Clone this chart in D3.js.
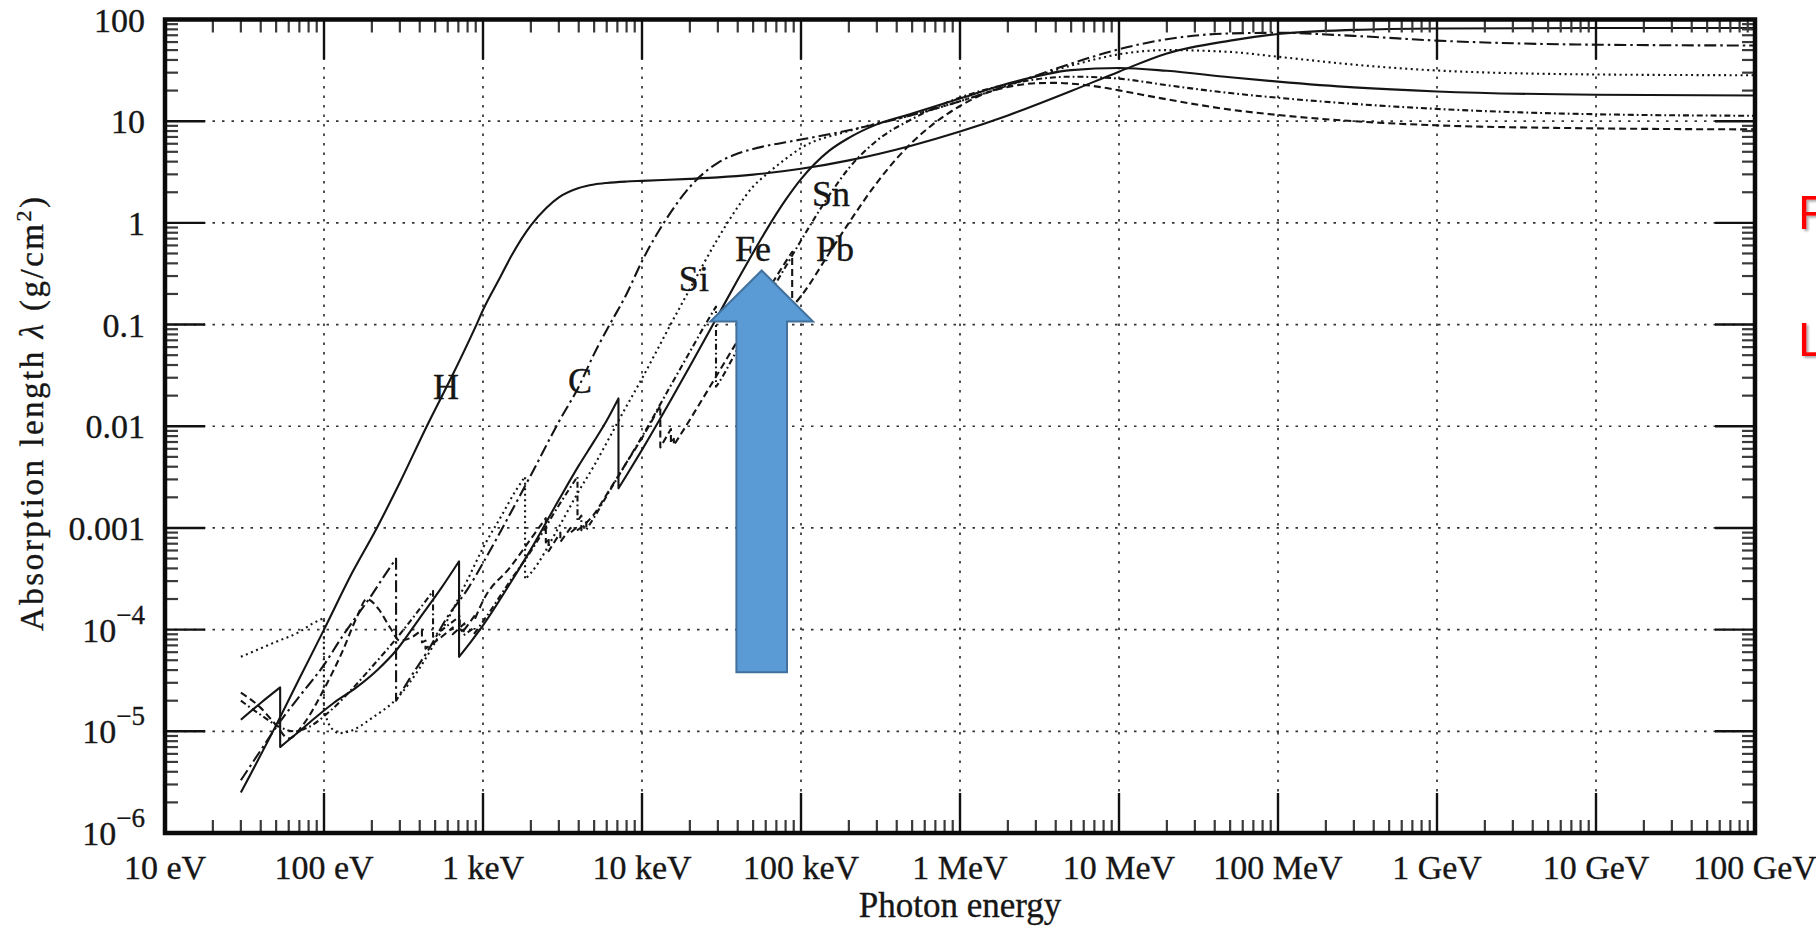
<!DOCTYPE html>
<html>
<head>
<meta charset="utf-8">
<script src="https://cdn.jsdelivr.net/npm/d3@7.9.0/dist/d3.min.js"></script>
<style>
  html, body { margin: 0; padding: 0; background: #fff; overflow: hidden; }
  svg { display: block; }
  .serif { font-family: "Liberation Serif", "DejaVu Serif", serif; fill: #161616; stroke: #161616; stroke-width: 0.35; }
</style>
</head>
<body>
<svg id="chart" width="1816" height="926"></svg>
<script>
// Axis ticks (photon energy in eV, absorption length in g/cm^2)
const xTicks = [1e1, 1e2, 1e3, 1e4, 1e5, 1e6, 1e7, 1e8, 1e9, 1e10, 1e11];
const xTickLabels = ['10 eV', '100 eV', '1 keV', '10 keV', '100 keV', '1 MeV',
  '10 MeV', '100 MeV', '1 GeV', '10 GeV', '100 GeV'];
const yTicks = [100, 10, 1, 0.1, 0.01, 0.001, 1e-4, 1e-5, 1e-6];
const yTickLabels = ['100', '10', '1', '0.1', '0.01', '0.001', '10^−4', '10^−5', '10^−6'];

// Curves: [energy eV, length g/cm^2]; a repeated energy is an absorption edge
const hydrogen = [[30, 2.5e-6], [50, 1.15e-5], [70, 3.3e-5], [100, 1.0e-4], [150, 3.6e-4], [215, 1.0e-3],
  [300, 2.8e-3], [443, 1.0e-2], [650, 3.3e-2], [910, 0.1], [1000, 0.139], [1280, 0.29], [1500, 0.466],
  [2000, 0.944], [2500, 1.4], [3000, 1.78], [4000, 2.2], [5000, 2.385], [6000, 2.47], [8000, 2.55],
  [1e4, 2.59], [2e4, 2.71], [3e4, 2.8], [5e4, 2.98], [1e5, 3.4], [2e5, 4.12], [5e5, 5.78], [1e6, 7.92],
  [2e6, 11.4], [5e6, 19.8], [1e7, 30.7], [2e7, 46.4], [5e7, 62], [1e8, 72], [3e8, 79], [1e9, 81.5],
  [1e10, 82.5], [1e11, 82.5]];

const carbon = [[30, 3.3e-6], [40, 6.5e-6], [52, 1.2e-5], [70, 2.2e-5], [100, 4.5e-5], [130, 8.5e-5],
  [160, 1.35e-4], [200, 2.2e-4], [240, 3.4e-4], [284, 5.0e-4], [284, 2.0e-5], [350, 3.4e-5], [450, 6.2e-5],
  [600, 1.35e-4], [800, 2.5e-4], [1000, 4.52e-4], [1500, 1.43e-3], [2000, 3.3e-3], [3000, 0.0111],
  [4000, 0.0245], [5000, 0.0515], [6000, 0.0885], [8000, 0.2], [1e4, 0.42], [1.5e4, 1.24], [2e4, 2.26],
  [3e4, 3.9], [4e4, 4.8], [5e4, 5.34], [8e4, 6.2], [1e5, 6.6], [2e5, 8.14], [5e5, 11.5], [1e6, 15.7],
  [2e6, 22.5], [5e6, 36.9], [1e7, 51], [2e7, 64], [5e7, 73], [1e8, 74], [3e8, 69], [1e9, 62],
  [1e10, 56.5], [1e11, 55.5]];

const silicon = [[30, 5.4e-5], [50, 7.6e-5], [70, 9.5e-5], [85, 1.15e-4], [99.8, 1.3e-4], [99.8, 1.6e-5],
  [110, 1.1e-5], [125, 9.6e-6], [150, 1.02e-5], [200, 1.35e-5], [287, 2.1e-5], [400, 4.2e-5], [500, 7.5e-5],
  [650, 1.6e-4], [800, 3.1e-4], [1000, 6.37e-4], [1300, 1.3e-3], [1600, 2.3e-3], [1839, 3.2e-3],
  [1839, 3.13e-4], [2000, 3.6e-4], [3000, 1.02e-3], [4000, 2.3e-3], [5000, 4.1e-3], [6000, 6.9e-3],
  [8000, 0.0158], [1e4, 0.0295], [1.5e4, 0.0976], [2e4, 0.224], [3e4, 0.7], [4e4, 1.43], [5e4, 2.28],
  [6e4, 2.96], [8e4, 4.25], [1e5, 5.45], [2e5, 8.0], [5e5, 11.5], [1e6, 15.7], [2e6, 22.4], [5e6, 35.2],
  [1e7, 45.5], [2e7, 50], [5e7, 48], [1e8, 43], [3e8, 36], [1e9, 31.5], [1e10, 28.8], [1e11, 28.3]];

const iron = [[30, 1.3e-5], [40, 1.9e-5], [53, 2.7e-5], [53, 7.0e-6], [70, 1.0e-5], [90, 1.4e-5],
  [115, 1.9e-5], [160, 2.7e-5], [220, 4.1e-5], [286, 6.3e-5], [400, 1.3e-4], [550, 2.6e-4], [707, 4.7e-4],
  [707, 5.4e-5], [850, 7.8e-5], [1000, 1.1e-4], [1500, 2.94e-4], [2000, 6.15e-4], [3000, 1.89e-3],
  [4000, 4.1e-3], [5000, 7.14e-3], [6000, 0.0114], [7112, 0.0188], [7112, 2.45e-3], [8000, 3.3e-3],
  [1e4, 5.86e-3], [1.5e4, 0.0175], [2e4, 0.039], [3e4, 0.122], [4e4, 0.276], [5e4, 0.51], [6e4, 0.83],
  [8e4, 1.68], [1e5, 2.69], [1.5e5, 5.1], [2e5, 6.85], [3e5, 9.3], [5e5, 11.9], [1e6, 16.7], [2e6, 23.5],
  [5e6, 31.8], [1e7, 33.4], [2e7, 31.3], [5e7, 27], [1e8, 24.5], [3e8, 21.5], [1e9, 19.6], [1e10, 18.2],
  [1e11, 17.9]];

const tin = [[30, 2.0e-5], [40, 1.45e-5], [50, 1.15e-5], [65, 1.0e-5], [80, 1.1e-5], [110, 1.6e-5],
  [150, 2.6e-5], [200, 4.3e-5], [300, 9.0e-5], [400, 1.6e-4], [485, 2.4e-4], [485, 8.5e-5], [600, 1.1e-4],
  [714, 1.35e-4], [714, 9.5e-5], [756, 1.0e-4], [756, 8.8e-5], [884, 1.05e-4], [884, 9.2e-5],
  [1000, 1.2e-4], [1500, 3.1e-4], [2000, 5.9e-4], [3000, 1.67e-3], [3929, 3.2e-3], [3929, 1.17e-3],
  [4156, 1.32e-3], [4156, 9.5e-4], [4465, 1.14e-3], [4465, 9.6e-4], [5000, 1.27e-3], [6000, 2.07e-3],
  [8000, 4.4e-3], [1e4, 7.9e-3], [1.5e4, 0.0244], [2e4, 0.054], [2.5e4, 0.1], [2.92e4, 0.15],
  [2.92e4, 0.0245], [3e4, 0.026], [4e4, 0.0575], [5e4, 0.104], [6e4, 0.172], [8e4, 0.37], [1e5, 0.67],
  [1.5e5, 1.85], [2e5, 3.45], [3e5, 6.45], [5e5, 10.5], [1e6, 17.1], [2e6, 23], [5e6, 27.4], [1e7, 26.2],
  [2e7, 22.6], [5e7, 18.9], [1e8, 17], [3e8, 14.8], [1e9, 13.2], [1e10, 11.7], [1e11, 11.3]];

const lead = [[30, 2.4e-5], [40, 1.7e-5], [50, 1.15e-5], [60, 8.5e-6], [75, 1.2e-5], [100, 2.6e-5],
  [130, 6.0e-5], [160, 1.3e-4], [186, 2.0e-4], [220, 1.6e-4], [260, 1.05e-4], [300, 7.8e-5], [360, 8.5e-5],
  [413, 1.0e-4], [413, 7.5e-5], [435, 7.8e-5], [435, 6.5e-5], [550, 8.5e-5], [645, 1.05e-4],
  [645, 9.0e-5], [764, 1.15e-4], [764, 1.0e-4], [894, 1.4e-4], [894, 1.3e-4], [1000, 1.92e-4],
  [1500, 4.2e-4], [2000, 7.8e-4], [2484, 1.25e-3], [2484, 7.2e-4], [2586, 8.0e-4], [2586, 5.9e-4],
  [3066, 9.0e-4], [3066, 7.3e-4], [3554, 1.0e-3], [3554, 9.0e-4], [3851, 1.0e-3], [3851, 9.3e-4],
  [5000, 1.37e-3], [6000, 2.14e-3], [8000, 4.4e-3], [1e4, 7.66e-3], [13035, 0.016], [13035, 6.2e-3],
  [15200, 9.4e-3], [15200, 6.8e-3], [15860, 7.5e-3], [15860, 6.5e-3], [2e4, 0.0116], [3e4, 0.033],
  [4e4, 0.0696], [5e4, 0.124], [6e4, 0.2], [8e4, 0.413], [8.8e4, 0.52], [8.8e4, 0.15], [1e5, 0.19],
  [1.5e5, 0.5], [2e5, 1.0], [3e5, 2.48], [4e5, 4.3], [5e5, 6.2], [6e5, 8.0], [8e5, 11.3], [1e6, 14.1],
  [1.5e6, 19.2], [2e6, 21.7], [3e6, 23.6], [4e6, 23.8], [5e6, 23.4], [8e6, 21.4], [1e7, 20.1],
  [2e7, 16.4], [5e7, 13], [1e8, 11.5], [3e8, 10], [1e9, 9.1], [1e10, 8.5], [1e11, 8.3]];

// Element labels: name, energy (eV) at label centre, length at baseline
const labelNames = ['H', 'C', 'Si', 'Fe', 'Sn', 'Pb'];
const labelEnergy = [585, 4070, 21200, 49900, 154500, 163800];
const labelLength = [0.0184, 0.0211, 0.215, 0.425, 1.47, 0.425];

// Blue arrow: energy, tip, head base and tail lengths
const arrowEnergy = 5.66e4;
const arrowTip = 0.34, arrowHead = 0.107, arrowTail = 3.8e-5;

const svg = d3.select('#chart');
const plotLeft = 165, plotRight = 1755, plotTop = 19.5, plotBottom = 833;

const x = d3.scaleLog().domain([1e1, 1e11]).range([plotLeft, plotRight]);
const y = d3.scaleLog().domain([1e-6, 100]).range([plotBottom, plotTop]);

// Dotted grid at each decade
const grid = svg.append('g').attr('stroke', '#333').attr('stroke-width', 1.7)
  .attr('stroke-dasharray', '2.5,7');
xTicks.slice(1, -1).forEach(v => {
  grid.append('line').attr('x1', x(v)).attr('x2', x(v)).attr('y1', plotTop).attr('y2', plotBottom);
});
yTicks.slice(1, -1).forEach(v => {
  grid.append('line').attr('y1', y(v)).attr('y2', y(v)).attr('x1', plotLeft).attr('x2', plotRight);
});

// Curves, split at edges so each piece is smooth and the edge is a straight drop
const line = d3.line().x(d => x(d[0])).y(d => y(d[1])).curve(d3.curveMonotoneX);
function pathFor(points) {
  const segs = [];
  let cur = [];
  points.forEach((p, i) => {
    if (i > 0 && p[0] === points[i - 1][0]) { segs.push(cur); cur = []; }
    cur.push(p);
  });
  segs.push(cur);
  return segs.map((s, i) => {
    const d = line(s);
    return i === 0 ? d : 'L' + d.slice(1);
  }).join('');
}

const curves = [
  { data: hydrogen, dash: null },
  { data: carbon, dash: '12,4,2.5,4' },
  { data: silicon, dash: '2,3.5' },
  { data: iron, dash: null },
  { data: tin, dash: '6,3,1.8,3' },
  { data: lead, dash: '7,4' }
];
curves.forEach(c => {
  svg.append('path')
    .attr('d', pathFor(c.data))
    .attr('fill', 'none')
    .attr('stroke', '#151515')
    .attr('stroke-width', 2.1)
    .attr('stroke-linejoin', 'round')
    .attr('stroke-dasharray', c.dash);
});

// Ticks on all four sides, pointing inward
const xMinor = [];
for (let e = 1; e < 11; e++) for (let k = 2; k <= 9; k++) xMinor.push(k * Math.pow(10, e));
const yMinor = [];
for (let e = -6; e < 2; e++) for (let k = 2; k <= 9; k++) yMinor.push(k * Math.pow(10, e));

const ticks = svg.append('g');
function tickSetX(values, len, width, color) {
  values.forEach(v => {
    const px = x(v);
    ticks.append('line').attr('x1', px).attr('x2', px).attr('y1', plotBottom).attr('y2', plotBottom - len)
      .attr('stroke-width', width).attr('stroke', color);
    ticks.append('line').attr('x1', px).attr('x2', px).attr('y1', plotTop).attr('y2', plotTop + len)
      .attr('stroke-width', width).attr('stroke', color);
  });
}
function tickSetY(values, len, width, color) {
  values.forEach(v => {
    const py = y(v);
    ticks.append('line').attr('y1', py).attr('y2', py).attr('x1', plotLeft).attr('x2', plotLeft + len)
      .attr('stroke-width', width).attr('stroke', color);
    ticks.append('line').attr('y1', py).attr('y2', py).attr('x1', plotRight).attr('x2', plotRight - len)
      .attr('stroke-width', width).attr('stroke', color);
  });
}
tickSetX(xMinor, 13, 2.2, '#3a3a3a');
tickSetY(yMinor, 13, 2.2, '#3a3a3a');
tickSetX(xTicks, 40, 2.4, '#111');
tickSetY(yTicks, 40, 2.4, '#111');

// Frame
svg.append('rect')
  .attr('x', plotLeft).attr('y', plotTop)
  .attr('width', plotRight - plotLeft).attr('height', plotBottom - plotTop)
  .attr('fill', 'none').attr('stroke', '#0a0a0a').attr('stroke-width', 4.5);

// X tick labels
svg.append('g').selectAll('text').data(xTicks).join('text')
  .attr('class', 'serif')
  .attr('x', d => x(d)).attr('y', 879)
  .attr('text-anchor', 'middle')
  .attr('font-size', 34)
  .text((d, i) => xTickLabels[i]);

// Y tick labels, with superscript exponents
yTicks.forEach((v, i) => {
  const t = svg.append('text').attr('class', 'serif')
    .attr('x', 145).attr('y', y(v) + 12)
    .attr('text-anchor', 'end').attr('font-size', 34);
  const parts = yTickLabels[i].split('^');
  t.append('tspan').text(parts[0]);
  if (parts[1]) t.append('tspan').attr('dy', -18).attr('font-size', 27).text(parts[1]);
});

// Axis titles
svg.append('text').attr('class', 'serif')
  .attr('x', (plotLeft + plotRight) / 2).attr('y', 917)
  .attr('text-anchor', 'middle').attr('font-size', 35)
  .text('Photon energy');

const yTitle = svg.append('text').attr('class', 'serif')
  .attr('transform', 'translate(43,414) rotate(-90)')
  .attr('text-anchor', 'middle').attr('font-size', 33)
  .attr('textLength', 434).attr('lengthAdjust', 'spacing');
yTitle.append('tspan').text('Absorption length ');
yTitle.append('tspan').attr('font-style', 'italic').text('λ');
yTitle.append('tspan').text('  (g/cm');
yTitle.append('tspan').attr('dy', -12).attr('font-size', 22).text('2');
yTitle.append('tspan').attr('dy', 12).text(')');

// Element labels
labelNames.forEach((n, i) => {
  svg.append('text').attr('class', 'serif')
    .attr('x', x(labelEnergy[i])).attr('y', y(labelLength[i]))
    .attr('text-anchor', 'middle').attr('font-size', 36)
    .text(n);
});

// Blue arrow annotation
const ax = x(arrowEnergy);
const tipY = y(arrowTip), headY = y(arrowHead), tailY = y(arrowTail);
const shaftHalf = 25.3, headHalf = 51.3;
svg.append('polygon')
  .attr('points', [
    [ax, tipY], [ax + headHalf, headY], [ax + shaftHalf, headY], [ax + shaftHalf, tailY],
    [ax - shaftHalf, tailY], [ax - shaftHalf, headY], [ax - headHalf, headY]
  ].map(p => p.join(',')).join(' '))
  .attr('fill', '#5b9bd5')
  .attr('stroke', '#41719c')
  .attr('stroke-width', 2);

// Red slide text cut off at the right edge
const defs = svg.append('defs');
defs.append('filter').attr('id', 'shadow')
  .append('feDropShadow').attr('dx', 2).attr('dy', 2).attr('stdDeviation', 1)
  .attr('flood-color', '#777').attr('flood-opacity', 0.6);
[['F', 229], ['L', 356]].forEach(([s, by]) => {
  svg.append('text')
    .attr('x', 1798).attr('y', by)
    .attr('font-family', '"Liberation Sans", Arial, sans-serif')
    .attr('font-size', 48)
    .attr('fill', '#ff0000')
    .attr('filter', 'url(#shadow)')
    .text(s);
});
</script>
</body>
</html>
